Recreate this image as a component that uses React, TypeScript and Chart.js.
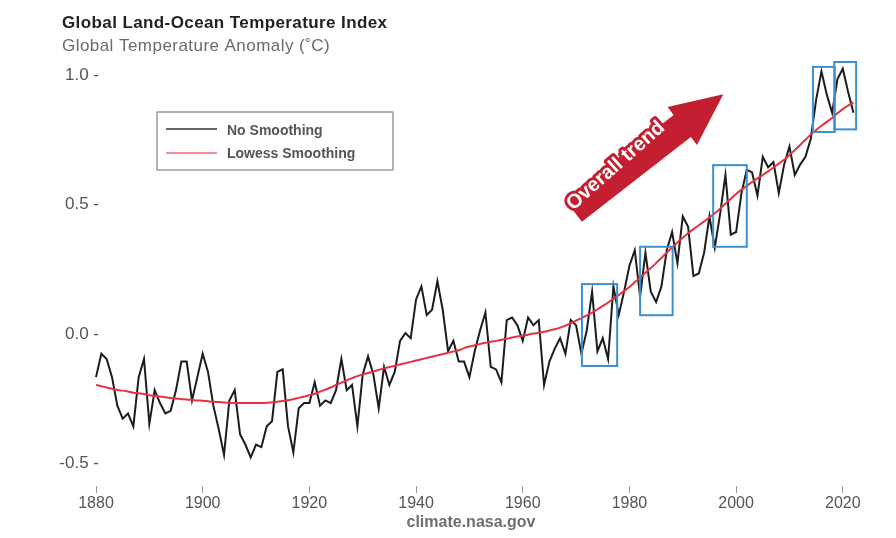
import React, { useEffect, useRef } from "react";
import { Chart, registerables } from "chart.js";

Chart.register(...registerables);

const START_YEAR = 1880;

// Annual global land-ocean temperature anomaly (°C)
const noSmoothing: number[] = [
  -0.17, -0.08, -0.10, -0.17, -0.28, -0.33, -0.31, -0.36, -0.17, -0.10,
  -0.35, -0.22, -0.27, -0.31, -0.30, -0.22, -0.11, -0.11, -0.26, -0.17,
  -0.08, -0.15, -0.28, -0.37, -0.47, -0.26, -0.22, -0.39, -0.43, -0.48,
  -0.43, -0.44, -0.36, -0.34, -0.15, -0.14, -0.36, -0.46, -0.29, -0.27,
  -0.27, -0.19, -0.28, -0.26, -0.27, -0.22, -0.10, -0.22, -0.20, -0.36,
  -0.16, -0.09, -0.16, -0.29, -0.13, -0.20, -0.15, -0.03, -0.00, -0.02,
  0.13, 0.18, 0.07, 0.09, 0.20, 0.09, -0.07, -0.03, -0.11, -0.11,
  -0.17, -0.07, 0.01, 0.08, -0.13, -0.14, -0.19, 0.05, 0.06, 0.03,
  -0.03, 0.06, 0.03, 0.05, -0.20, -0.11, -0.06, -0.02, -0.08, 0.05,
  0.03, -0.08, 0.01, 0.16, -0.07, -0.02, -0.10, 0.18, 0.07, 0.16,
  0.26, 0.32, 0.14, 0.31, 0.16, 0.12, 0.18, 0.32, 0.39, 0.27,
  0.45, 0.41, 0.22, 0.23, 0.31, 0.45, 0.33, 0.46, 0.61, 0.38,
  0.39, 0.54, 0.63, 0.62, 0.53, 0.68, 0.64, 0.66, 0.54, 0.65,
  0.72, 0.61, 0.65, 0.68, 0.75, 0.90, 1.01, 0.92, 0.85, 0.98,
  1.02, 0.93, 0.85,
];

// Lowess-smoothed curve
const lowessSmoothing: number[] = [
  -0.200, -0.205, -0.210, -0.215, -0.220, -0.222, -0.225, -0.230, -0.232, -0.235,
  -0.240, -0.242, -0.245, -0.248, -0.250, -0.252, -0.255, -0.256, -0.258, -0.260,
  -0.261, -0.263, -0.265, -0.266, -0.268, -0.269, -0.270, -0.270, -0.270, -0.270,
  -0.270, -0.270, -0.269, -0.267, -0.265, -0.262, -0.259, -0.255, -0.250, -0.245,
  -0.240, -0.234, -0.226, -0.218, -0.210, -0.200, -0.191, -0.182, -0.174, -0.166,
  -0.160, -0.154, -0.148, -0.142, -0.136, -0.131, -0.126, -0.121, -0.116, -0.111,
  -0.106, -0.101, -0.096, -0.091, -0.086, -0.081, -0.076, -0.071, -0.066, -0.058,
  -0.052, -0.047, -0.042, -0.037, -0.033, -0.030, -0.026, -0.022, -0.017, -0.013,
  -0.010, -0.006, -0.002, 0.001, 0.005, 0.010, 0.015, 0.021, 0.029, 0.038,
  0.048, 0.058, 0.068, 0.079, 0.092, 0.105, 0.118, 0.132, 0.147, 0.162,
  0.178, 0.196, 0.214, 0.233, 0.251, 0.270, 0.290, 0.310, 0.330, 0.350,
  0.368, 0.385, 0.401, 0.416, 0.431, 0.446, 0.462, 0.480, 0.499, 0.518,
  0.537, 0.553, 0.568, 0.583, 0.597, 0.610, 0.624, 0.639, 0.654, 0.669,
  0.687, 0.706, 0.726, 0.746, 0.766, 0.784, 0.800, 0.815, 0.830, 0.848,
  0.864, 0.878, 0.890,
];

const years: number[] = noSmoothing.map((_, i) => START_YEAR + i);

const xTickValues: number[] = [1880, 1900, 1920, 1940, 1960, 1980, 2000, 2020];
const yTickValues: number[] = [-0.5, 0.0, 0.5, 1.0];

// Highlight boxes: [yearFrom, yearTo, anomalyLow, anomalyHigh]
const boxYearFrom: number[] = [1971.1, 1982.0, 1995.7, 2014.4, 2018.4];
const boxYearTo: number[] = [1977.7, 1988.1, 2002.0, 2018.5, 2022.5];
const boxLow: number[] = [-0.127, 0.069, 0.333, 0.776, 0.786];
const boxHigh: number[] = [0.189, 0.333, 0.648, 1.027, 1.046];

// Trend arrow (data units)
const arrowFrom = { x: 1969.48, y: 0.4724 };
const arrowTo = { x: 1997.6, y: 0.922 };
const arrowLabel = "Overall trend";
const arrowLabelAt = { x: 1977.3, y: 0.648 };

const TITLE = "Global Land-Ocean Temperature Index";
const SUBTITLE = "Global Temperature Anomaly (\u02daC)";
const SOURCE = "climate.nasa.gov";

const FONT = "'Liberation Sans', Arial, Helvetica, sans-serif";
const BLACK = "#1c1c1c";
const RED = "#e5323e";
const BLUE = "#3e8fd0";
const ARROW_RED = "#c41f31";

const decorPlugin = {
  id: "decor",
  afterDatasetsDraw(chart: any) {
    const ctx = chart.ctx as CanvasRenderingContext2D;
    const xs = chart.scales.x;
    const ys = chart.scales.y;
    ctx.save();

    // Titles
    ctx.textAlign = "left";
    ctx.textBaseline = "alphabetic";
    ctx.fillStyle = "#222";
    ctx.font = `bold 17px ${FONT}`;
    (ctx as any).letterSpacing = "0.4px";
    ctx.fillText(TITLE, 62, 28);
    ctx.fillStyle = "#6a6a6a";
    ctx.font = `17px ${FONT}`;
    (ctx as any).letterSpacing = "0.45px";
    ctx.fillText(SUBTITLE, 62, 51);
    (ctx as any).letterSpacing = "0px";

    // Y tick labels (through the y scale)
    ctx.fillStyle = "#555";
    ctx.font = `17px ${FONT}`;
    ctx.textAlign = "right";
    ctx.textBaseline = "middle";
    yTickValues.forEach((v) => {
      ctx.fillText(v.toFixed(1) + " -", 99, ys.getPixelForValue(v) + 1);
    });

    // Highlight boxes
    ctx.strokeStyle = BLUE;
    ctx.lineWidth = 2;
    for (let i = 0; i < boxYearFrom.length; i++) {
      const x0 = xs.getPixelForValue(boxYearFrom[i]);
      const x1 = xs.getPixelForValue(boxYearTo[i]);
      const y0 = ys.getPixelForValue(boxHigh[i]);
      const y1 = ys.getPixelForValue(boxLow[i]);
      ctx.strokeRect(x0, y0, x1 - x0, y1 - y0);
    }

    // Arrow
    const ax0 = xs.getPixelForValue(arrowFrom.x);
    const ay0 = ys.getPixelForValue(arrowFrom.y);
    const ax1 = xs.getPixelForValue(arrowTo.x);
    const ay1 = ys.getPixelForValue(arrowTo.y);
    const dx = ax1 - ax0;
    const dy = ay1 - ay0;
    const len = Math.hypot(dx, dy);
    const ux = dx / len;
    const uy = dy / len;
    const nx = -uy;
    const ny = ux;
    const shaftHalf = 14;
    const headHalf = 24;
    const headLen = 52;
    const bx = ax1 - ux * headLen;
    const by = ay1 - uy * headLen;
    ctx.fillStyle = ARROW_RED;
    ctx.beginPath();
    ctx.moveTo(ax0 + nx * shaftHalf, ay0 + ny * shaftHalf);
    ctx.lineTo(bx + nx * shaftHalf, by + ny * shaftHalf);
    ctx.lineTo(bx + nx * headHalf, by + ny * headHalf);
    ctx.lineTo(ax1, ay1);
    ctx.lineTo(bx - nx * headHalf, by - ny * headHalf);
    ctx.lineTo(bx - nx * shaftHalf, by - ny * shaftHalf);
    ctx.lineTo(ax0 - nx * shaftHalf, ay0 - ny * shaftHalf);
    ctx.closePath();
    ctx.fill();

    const tx = xs.getPixelForValue(arrowLabelAt.x);
    const ty = ys.getPixelForValue(arrowLabelAt.y);
    ctx.translate(tx, ty);
    ctx.rotate((-41.5 * Math.PI) / 180);
    ctx.font = `bold 20px ${FONT}`;
    ctx.textAlign = "center";
    ctx.textBaseline = "middle";
    ctx.lineJoin = "round";
    ctx.strokeStyle = ARROW_RED;
    ctx.lineWidth = 6;
    ctx.strokeText(arrowLabel, 0, 1);
    ctx.fillStyle = "#ffffff";
    ctx.fillText(arrowLabel, 0, 1);
    ctx.setTransform(1, 0, 0, 1, 0, 0);

    // Legend
    const ds = chart.data.datasets;
    ctx.fillStyle = "#ffffff";
    ctx.fillRect(157, 112, 236, 58);
    ctx.strokeStyle = "#9a9a9a";
    ctx.lineWidth = 1.5;
    ctx.strokeRect(157, 112, 236, 58);
    const rows = [
      { y: 129, base: 135 },
      { y: 153, base: 158 },
    ];
    ds.forEach((d: any, i: number) => {
      const r = rows[i];
      ctx.strokeStyle = i === 0 ? "#333" : "#ee6a74";
      ctx.lineWidth = 1.5;
      ctx.beginPath();
      ctx.moveTo(166, r.y);
      ctx.lineTo(217, r.y);
      ctx.stroke();
      ctx.fillStyle = "#555";
      ctx.font = `bold 14px ${FONT}`;
      ctx.textAlign = "left";
      ctx.textBaseline = "alphabetic";
      ctx.fillText(d.label, 227, r.base);
    });

    ctx.restore();
  },
};

export default function App() {
  const canvasRef = useRef<HTMLCanvasElement | null>(null);

  useEffect(() => {
    const canvas = canvasRef.current;
    if (!canvas) return;
    const chart = new Chart(canvas, {
      type: "line",
      data: {
        datasets: [
          {
            label: "No Smoothing",
            data: years.map((yr, i) => ({ x: yr, y: noSmoothing[i] })),
            borderColor: BLACK,
            borderWidth: 2,
            pointRadius: 0,
            tension: 0,
            order: 2,
          },
          {
            label: "Lowess Smoothing",
            data: years.map((yr, i) => ({ x: yr, y: lowessSmoothing[i] })),
            borderColor: RED,
            borderWidth: 2,
            pointRadius: 0,
            tension: 0.3,
            order: 1,
          },
        ],
      },
      options: {
        responsive: false,
        animation: false,
        devicePixelRatio: 1,
        layout: { padding: { top: 48, right: 34, bottom: 0, left: 0 } },
        plugins: {
          legend: { display: false },
          tooltip: { enabled: false },
          title: { display: false },
        },
        scales: {
          x: {
            type: "linear",
            min: 1877,
            max: 2023.6,
            afterBuildTicks: (scale: any) => {
              scale.ticks = xTickValues.map((v) => ({ value: v }));
            },
            afterFit: (scale: any) => {
              scale.height = 52;
            },
            ticks: {
              callback: (v: any) => String(v),
              autoSkip: false,
              maxRotation: 0,
              padding: 1,
              color: "#555",
              font: { family: FONT, size: 16 },
            },
            grid: {
              display: true,
              drawOnChartArea: false,
              drawTicks: true,
              tickLength: 7,
              color: "#9a9a9a",
              lineWidth: 1,
            },
            border: { display: false },
            title: {
              display: true,
              text: SOURCE,
              color: "#6e6e6e",
              font: { family: FONT, size: 16, weight: "bold" },
              padding: { top: 0, bottom: 6 },
            },
          },
          y: {
            type: "linear",
            min: -0.59,
            max: 1.1,
            afterBuildTicks: (scale: any) => {
              scale.ticks = yTickValues.map((v) => ({ value: v }));
            },
            afterFit: (scale: any) => {
              scale.width = 80;
            },
            ticks: { display: false },
            grid: { display: false },
            border: { display: false },
          },
        },
      },
      plugins: [decorPlugin],
    } as any);
    return () => chart.destroy();
  }, []);

  return (
    <canvas
      ref={canvasRef}
      width={896}
      height={538}
      style={{ position: "absolute", left: 0, top: 0, width: 896, height: 538 }}
    />
  );
}
